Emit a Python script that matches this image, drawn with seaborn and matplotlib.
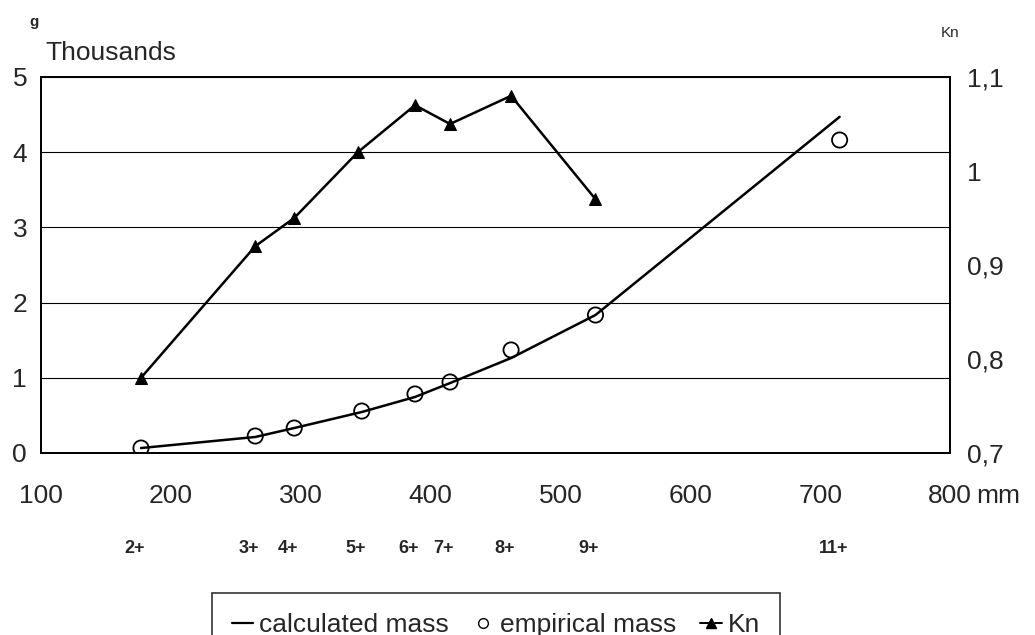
import matplotlib
matplotlib.use("Agg")
import matplotlib.pyplot as plt
import seaborn as sns
from matplotlib.lines import Line2D

# fish length (mm), mass (g) and condition factor Kn
lengths = [177, 265, 295, 347, 388, 415, 462, 527, 715]
ages = ["2+", "3+", "4+", "5+", "6+", "7+", "8+", "9+", "11+"]
empirical_mass = [66, 226, 332, 558, 785, 944, 1370, 1835, 4162]
calculated_mass = [66, 213, 332, 545, 745, 930, 1263, 1835, 4470]
kn_lengths = [177, 265, 295, 344, 388, 415, 462, 527]
kn = [0.78, 0.92, 0.95, 1.02, 1.07, 1.05, 1.08, 0.97]

mass_ticks = [0, 1000, 2000, 3000, 4000, 5000]
mass_labels = ["0", "1", "2", "3", "4", "5"]
kn_ticks = [0.7, 0.8, 0.9, 1.0, 1.1]
kn_labels = ["0,7", "0,8", "0,9", "1", "1,1"]
x_ticks = [100, 200, 300, 400, 500, 600, 700, 800]

sns.set_style("white")
plt.rcParams['font.family'] = ['Liberation Sans', 'DejaVu Sans']

W, H = 1035, 635
fig = plt.figure(figsize=(W / 100, H / 100), dpi=100)
ax = fig.add_axes([41 / W, 1 - 453 / H, (950 - 41) / W, (453 - 77) / H])

sns.lineplot(x=lengths, y=calculated_mass, ax=ax, color="black", lw=1.8)
sns.scatterplot(x=lengths, y=empirical_mass, ax=ax, color="black", s=120,
                marker="o", zorder=3)
pts = ax.collections[-1]
pts.set_facecolor("none")
pts.set_edgecolor("black")
pts.set_linewidth(1.3)

ax.set_xlim(100, 800)
ax.set_ylim(0, 5000)
ax.set_xticks(x_ticks)
ax.set_xticklabels([str(t) for t in x_ticks])
ax.set_yticks(mass_ticks)
ax.set_yticklabels(mass_labels)
ax.grid(axis="y", color="black", lw=0.8)
ax.grid(axis="x", visible=False)
ax.tick_params(axis="x", direction="inout", length=18, width=1.1,
               labelsize=19, pad=13)
ax.tick_params(axis="y", length=0, labelsize=19, pad=10)
for sp in ax.spines.values():
    sp.set_color("black")
    sp.set_linewidth(1.3)

ax2 = ax.twinx()
sns.lineplot(x=kn_lengths, y=kn, ax=ax2, color="black", lw=1.8,
             marker="^", markersize=9, mec="black", mfc="black")
ax2.set_ylim(0.7, 1.1)
ax2.set_yticks(kn_ticks)
ax2.set_yticklabels(kn_labels)
ax2.tick_params(axis="y", length=0, labelsize=19, pad=12)
ax2.grid(False)
for sp in ax2.spines.values():
    sp.set_color("black")
    sp.set_linewidth(1.3)

# age classes under the axis
for x, a in zip(lengths, ages):
    ax.text(x - 5, -0.253, a, transform=ax.get_xaxis_transform(),
            ha="center", va="center", fontsize=13, weight="bold")

fig.text(34 / W, 1 - 22 / H, "g", fontsize=11, weight="bold",
         ha="center", va="center")
fig.text(45 / W, 1 - 53 / H, "Thousands", fontsize=19, ha="left", va="center")
fig.text(950 / W, 1 - 33 / H, "Kn", fontsize=11, ha="center", va="center")
fig.text(976 / W, 1 - 503 / H, "mm", fontsize=19, ha="left", va="baseline")

handles = [
    Line2D([], [], color="black", lw=1.6),
    Line2D([], [], ls="none", marker="o", mfc="none", mec="black", ms=7),
    Line2D([], [], color="black", lw=1.4, marker="^", ms=7),
]
leg = fig.legend(handles, ["calculated mass", "empirical mass", "Kn"],
                 loc="upper center", bbox_to_anchor=(496 / W, 1 - 593 / H),
                 ncol=3, frameon=True, fancybox=False, edgecolor="black",
                 fontsize=19, handlelength=0.8, handletextpad=0.25,
                 columnspacing=0.9, borderpad=0.75, borderaxespad=0)
leg.get_frame().set_linewidth(1.2)

fig.savefig("out.png", dpi=100)
